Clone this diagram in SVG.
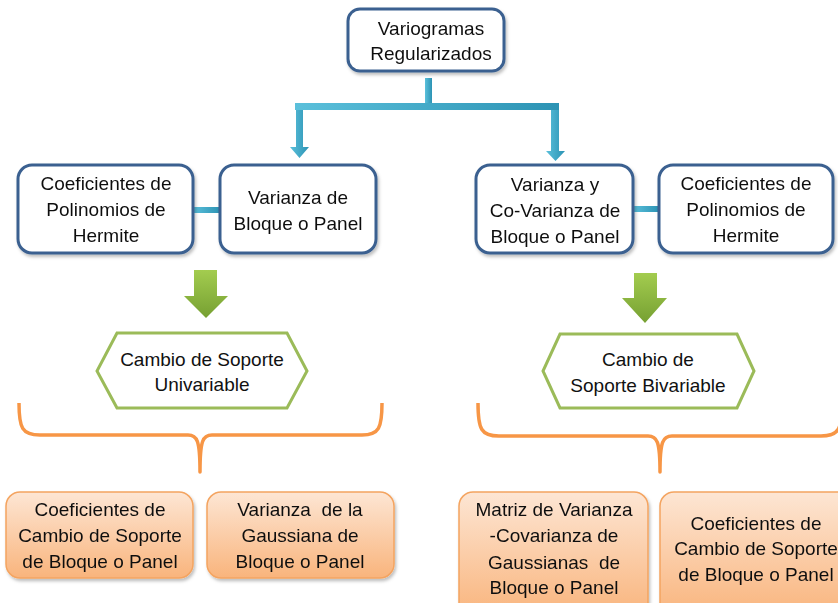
<svg xmlns="http://www.w3.org/2000/svg" width="838" height="603" viewBox="0 0 838 603">
<style>
text{font-family:"Liberation Sans",Arial,sans-serif;font-size:19px;fill:#111;text-anchor:middle;white-space:pre}
.bx{fill:#fff;stroke:#3b6190;stroke-width:3}
.hx{fill:#fff;stroke:#9bbb59;stroke-width:3}
.ob{fill:url(#og);stroke:#f4a460;stroke-width:1.5}
.br{fill:none;stroke:#f79646;stroke-width:3.5;stroke-linejoin:round}
.bl{fill:url(#bg)}
.gr{fill:url(#gg)}
</style>
<defs>
<linearGradient id="og" x1="0" y1="0" x2="0" y2="1"><stop offset="0" stop-color="#fde6d4"/><stop offset="1" stop-color="#f9b47c"/></linearGradient>
<linearGradient id="bg" x1="0" y1="0" x2="1" y2="0"><stop offset="0" stop-color="#5bc0db"/><stop offset="1" stop-color="#2c93b4"/></linearGradient>
<linearGradient id="gg" x1="0" y1="0" x2="0" y2="1"><stop offset="0" stop-color="#a3cc4f"/><stop offset="1" stop-color="#76a032"/></linearGradient>
<filter id="sh" x="-10%" y="-10%" width="130%" height="130%"><feDropShadow dx="1.5" dy="2.5" stdDeviation="1.5" flood-color="#000" flood-opacity="0.25"/></filter>
</defs>

<g id="connectors">
<rect class="bl" x="425" y="78" width="7" height="27"/>
<rect class="bl" x="295" y="103" width="264" height="7"/>
<path class="bl" d="M296,110 H303 V147 H309 L299.5,158 L290,147 H296 Z"/>
<path class="bl" d="M551,110 H559 V151 H565 L555.5,161 L546,151 H551 Z"/>
<rect class="bl" x="193" y="207" width="27" height="6"/>
<rect class="bl" x="633" y="206" width="26" height="6"/>
<path class="gr" d="M194,270 H217 V296 H228 L206,318 L184,296 H194 Z"/>
<path class="gr" d="M634,273 H657 V298 H667 L645,323 L622,298 H634 Z"/>
<path class="br" d="M19,403 C19,428 22,435 40,435 L188,435 C197,435 200,440 200,472 C200,440 203,435 212,435 L362,435 C379,435 382,428 382,403"/>
<path class="br" d="M478,403 C478,429 481,436 499,436 L648,436 C657,436 660,441 660,472 C660,441 663,436 672,436 L821,436 C839,436 842,429 842,403"/>
</g>

<g id="n-top" filter="url(#sh)">
<rect class="bx" x="348" y="9" width="156" height="62" rx="12"/>
<text x="431" y="35">Variogramas</text>
<text x="431" y="60">Regularizados</text>
</g>

<g id="n-coef-herm-l" filter="url(#sh)">
<rect class="bx" x="18" y="165" width="175" height="88" rx="14"/>
<text x="106" y="190">Coeficientes de</text>
<text x="106" y="216">Polinomios de</text>
<text x="106" y="242">Hermite</text>
</g>

<g id="n-var-bloque" filter="url(#sh)">
<rect class="bx" x="220" y="165" width="156" height="88" rx="14"/>
<text x="298" y="204">Varianza de</text>
<text x="298" y="230">Bloque o Panel</text>
</g>

<g id="n-var-covar" filter="url(#sh)">
<rect class="bx" x="476" y="165" width="157" height="88" rx="14"/>
<text x="555" y="191">Varianza y</text>
<text x="555" y="217">Co-Varianza de</text>
<text x="555" y="243">Bloque o Panel</text>
</g>

<g id="n-coef-herm-r" filter="url(#sh)">
<rect class="bx" x="659" y="165" width="174" height="88" rx="14"/>
<text x="746" y="190">Coeficientes de</text>
<text x="746" y="216">Polinomios de</text>
<text x="746" y="242">Hermite</text>
</g>

<g id="n-cambio-uni">
<path class="hx" d="M117,333 H287 L307,371 L287,408 H117 L97,371 Z"/>
<text x="202" y="366">Cambio de Soporte</text>
<text x="202" y="391">Univariable</text>
</g>

<g id="n-cambio-bi">
<path class="hx" d="M560,334 H737 L754,371 L737,408 H560 L543,371 Z"/>
<text x="648" y="366">Cambio de</text>
<text x="648" y="392">Soporte Bivariable</text>
</g>

<g id="n-coef-cambio-l" filter="url(#sh)">
<rect class="ob" x="6" y="492" width="187" height="86" rx="14"/>
<text x="100" y="516">Coeficientes de</text>
<text x="100" y="542">Cambio de Soporte</text>
<text x="100" y="568">de Bloque o Panel</text>
</g>

<g id="n-var-gauss" filter="url(#sh)">
<rect class="ob" x="207" y="492" width="187" height="86" rx="14"/>
<text x="300" y="516">Varianza  de la</text>
<text x="300" y="542">Gaussiana de</text>
<text x="300" y="568">Bloque o Panel</text>
</g>

<g id="n-matriz" filter="url(#sh)">
<rect class="ob" x="459" y="492" width="189" height="125" rx="14"/>
<text x="554" y="516">Matriz de Varianza</text>
<text x="554" y="542">-Covarianza de</text>
<text x="554" y="569">Gaussianas  de</text>
<text x="554" y="594">Bloque o Panel</text>
</g>

<g id="n-coef-cambio-r" filter="url(#sh)">
<rect class="ob" x="660" y="492" width="192" height="125" rx="14"/>
<text x="756" y="530">Coeficientes de</text>
<text x="756" y="555">Cambio de Soporte</text>
<text x="756" y="581">de Bloque o Panel</text>
</g>
</svg>
